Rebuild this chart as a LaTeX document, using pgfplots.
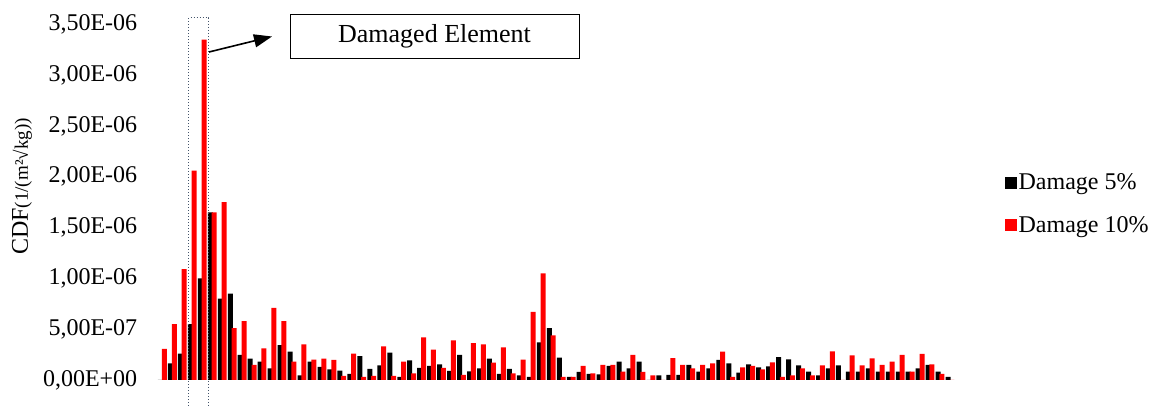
\documentclass[border=0pt]{standalone}
\usepackage{fontspec}
\setmainfont{Liberation Serif}
\usepackage{pgfplots}
\pgfplotsset{compat=1.18}
\usepackage{pgfplotstable}
\usetikzlibrary{arrows.meta}

\pgfplotstableread{
g b r
1 0 0.305
2 0.164 0.55
3 0.26 1.09
4 0.55 2.06
5 1.00 3.35
6 1.65 1.65
7 0.80 1.75
8 0.85 0.51
9 0.246 0.58
10 0.21 0.148
11 0.18 0.31
12 0.115 0.71
13 0.344 0.58
14 0.28 0.18
15 0.046 0.35
16 0.18 0.20
17 0.13 0.21
18 0.105 0.197
19 0.092 0.04
20 0.06 0.26
21 0.236 0.03
22 0.11 0.04
23 0.145 0.33
24 0.27 0.04
25 0.03 0.18
26 0.193 0.066
27 0.12 0.42
28 0.14 0.30
29 0.154 0.12
30 0.089 0.39
31 0.246 0.05
32 0.085 0.364
33 0.115 0.35
34 0.21 0.17
35 0.06 0.32
36 0.11 0.066
37 0.046 0.20
38 0.03 0.67
39 0.37 1.05
40 0.51 0.44
41 0.22 0.03
42 0.03 0.03
43 0.079 0.138
44 0.06 0.066
45 0.056 0.15
46 0.138 0.148
47 0.18 0.082
48 0.115 0.246
49 0.18 0.079
50 0 0.046
51 0.046 0
52 0.05 0.216
53 0.05 0.148
54 0.148 0.115
55 0.082 0.148
56 0.115 0.164
57 0.197 0.278
58 0.164 0.03
59 0.072 0.125
60 0.154 0.138
61 0.125 0.105
62 0.135 0.174
63 0.226 0.03
64 0.203 0.046
65 0.145 0.115
66 0.082 0.046
67 0.046 0.145
68 0.115 0.282
69 0.145 0
70 0.082 0.243
71 0.082 0.145
72 0.115 0.213
73 0.082 0.148
74 0.082 0.18
75 0.082 0.246
76 0.082 0.082
77 0.115 0.256
78 0.148 0.154
79 0.082 0.06
80 0.03 0
}\data

\begin{document}
\begin{tikzpicture}[x=1pt,y=1pt]
\begin{axis}[
  at={(157.4pt,26pt)}, anchor=south west,
  scale only axis, width=797.6pt, height=355.7pt,
  xmin=0.5, xmax=80.5, ymin=0, ymax=3.5,
  axis line style={draw=none},
  xtick=\empty,
  ytick={0,0.5,1,1.5,2,2.5,3,3.5},
  yticklabels={{0,00E+00},{5,00E-07},{1,00E-06},{1,50E-06},{2,00E-06},{2,50E-06},{3,00E-06},{3,50E-06}},
  major tick length=0pt,
  yticklabel style={anchor=east, inner sep=0pt, xshift=-20pt, font=\fontsize{24}{24}\selectfont},
  clip=false,
  legend style={at={(rel axis cs:1.0627,0.586)}, anchor=north west, draw=none, fill=none,
    font=\fontsize{24}{24}\selectfont, inner sep=0pt, row sep=21pt,
    nodes={inner sep=2pt}},
  legend cell align=left,
]
\addplot[ybar, bar width=5pt, bar shift=-1.9pt, fill=black, draw=none, forget plot] table[x=g,y=b]{\data};
\addplot[ybar, bar width=5pt, bar shift=1.9pt, fill=red, draw=none, forget plot] table[x=g,y=r]{\data};
\addlegendimage{legend image code/.code={\fill[black] (0pt,-5.5pt) rectangle (11pt,5.5pt);}}
\addlegendentry{Damage 5\%}
\addlegendimage{legend image code/.code={\fill[red] (0pt,-5.5pt) rectangle (11pt,5.5pt);}}
\addlegendentry{Damage 10\%}
\end{axis}
\draw[dotted, color={rgb,255:red,68;green,84;blue,106}, line width=1pt]
  (188.5,0) -- (188.5,388) -- (208.5,388) -- (208.5,0);
\draw[-{Triangle[length=18pt,width=13pt]}, line width=1.6pt] (209,354) -- (272,369.5);
\draw[line width=0.8pt] (290,348) rectangle (579,392);
\node[font=\fontsize{26}{26}\selectfont] at (434.5,370) {Damaged Element};
\node[rotate=90, anchor=center] at (22,219.5) {\fontsize{24}{24}\selectfont CDF\fontsize{19}{19}\selectfont(1/(m²√kg))};
\pgfresetboundingbox
\path (0,0) rectangle (1159,406);
\end{tikzpicture}
\end{document}
